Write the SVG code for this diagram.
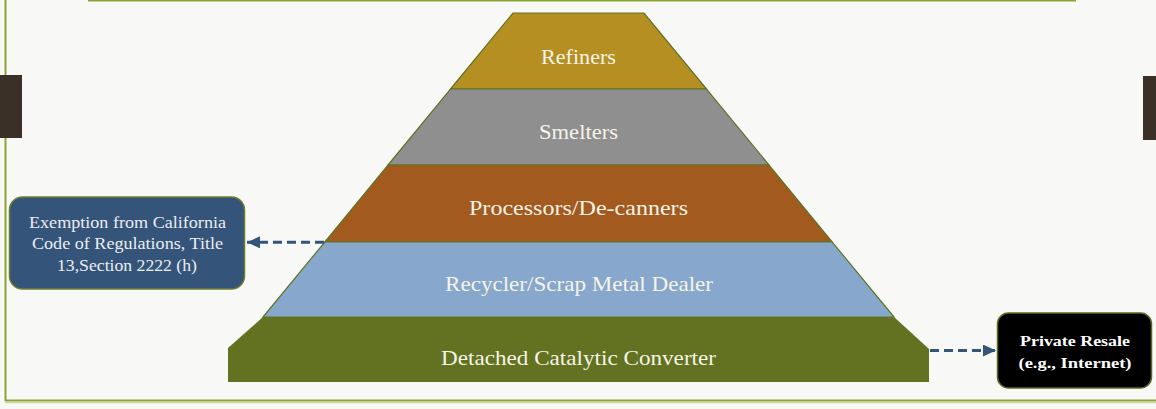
<svg xmlns="http://www.w3.org/2000/svg" width="1156" height="409" viewBox="0 0 1156 409">
<defs>
<style>
.frame{stroke:#8AA532;stroke-width:2;fill:none}
.tab{fill:#3A3027}
.layer{stroke:#5E7424;stroke-width:1.2}
.lbl{font-size:21px;fill:#F6F3E8;text-anchor:middle}
.note{font-size:16.5px;fill:#ECEDEF;text-anchor:middle}
.bold{font-size:15.5px;font-weight:bold;fill:#FFFFFF;text-anchor:middle}
.conn{stroke:#34547A;stroke-width:3;stroke-dasharray:9 5;fill:none}
</style>
<marker id="ah" markerUnits="userSpaceOnUse" markerWidth="13" markerHeight="12" viewBox="0 0 13 12" refX="13" refY="6" orient="auto">
<path d="M0,0 L13,6 L0,12 Z" fill="#34547A"/>
</marker>
</defs>
<rect width="1156" height="409" fill="#F8F8F7"/>
<g id="frame">
<line class="frame" x1="88" y1="0.5" x2="1076" y2="0.5"/>
<line class="frame" x1="5.5" y1="0" x2="5.5" y2="401"/>
<line class="frame" x1="5" y1="400.5" x2="1156" y2="400.5"/>
<line x1="5" y1="402.5" x2="1156" y2="402.5" stroke="#C9D6A6" stroke-width="1.5"/>
<rect class="tab" x="0" y="75" width="22" height="63"/>
<rect class="tab" x="1143" y="76" width="13" height="64"/>
</g>
<g font-family="'Liberation Serif', 'DejaVu Serif', serif">
<g id="refiners">
<polygon class="layer" fill="#B58F22" points="513,13 644,13 706.5,89 450.5,89"/>
<text class="lbl" x="578.5" y="64" textLength="75" lengthAdjust="spacingAndGlyphs">Refiners</text>
</g>
<g id="smelters">
<polygon class="layer" fill="#8F8F8F" points="450.5,89 706.5,89 769,165 388,165"/>
<text class="lbl" x="578.5" y="139" textLength="79" lengthAdjust="spacingAndGlyphs">Smelters</text>
</g>
<g id="processors">
<polygon class="layer" fill="#A25A1E" points="388,165 769,165 832.2,242 324.8,242"/>
<text class="lbl" x="578.5" y="215" textLength="219" lengthAdjust="spacingAndGlyphs">Processors/De-canners</text>
</g>
<g id="recycler">
<polygon class="layer" fill="#87A8CC" points="324.8,242 832.2,242 894,317 263,317"/>
<text class="lbl" x="579" y="291" textLength="268" lengthAdjust="spacingAndGlyphs">Recycler/Scrap Metal Dealer</text>
</g>
<g id="detached">
<polygon fill="#627220" points="263,317 894,317 929,349 929,382 228,382 228,348"/>
<text class="lbl" x="578.5" y="365" textLength="275" lengthAdjust="spacingAndGlyphs">Detached Catalytic Converter</text>
</g>
<g id="exemption">
<rect x="9.5" y="197" width="235" height="92" rx="13" fill="#34547A" stroke="#6E7D2C" stroke-width="1.5"/>
<text class="note" x="127.5" y="228" textLength="197" lengthAdjust="spacingAndGlyphs">Exemption from California</text>
<text class="note" x="127.5" y="249" textLength="191" lengthAdjust="spacingAndGlyphs">Code of Regulations, Title</text>
<text class="note" x="127" y="271" textLength="140" lengthAdjust="spacingAndGlyphs">13,Section 2222 (h)</text>
</g>
<g id="resale">
<rect x="997.5" y="313" width="154" height="75" rx="11" fill="#000000" stroke="#5B6A1F" stroke-width="1.5"/>
<text class="bold" x="1075" y="346" textLength="110" lengthAdjust="spacingAndGlyphs">Private Resale</text>
<text class="bold" x="1075" y="368" textLength="113" lengthAdjust="spacingAndGlyphs">(e.g., Internet)</text>
</g>
</g>
<g id="connectors">
<line class="conn" x1="324" y1="242.3" x2="247" y2="242.3" marker-end="url(#ah)"/>
<line class="conn" x1="930" y1="350.5" x2="996" y2="350.5" marker-end="url(#ah)"/>
</g>
</svg>
